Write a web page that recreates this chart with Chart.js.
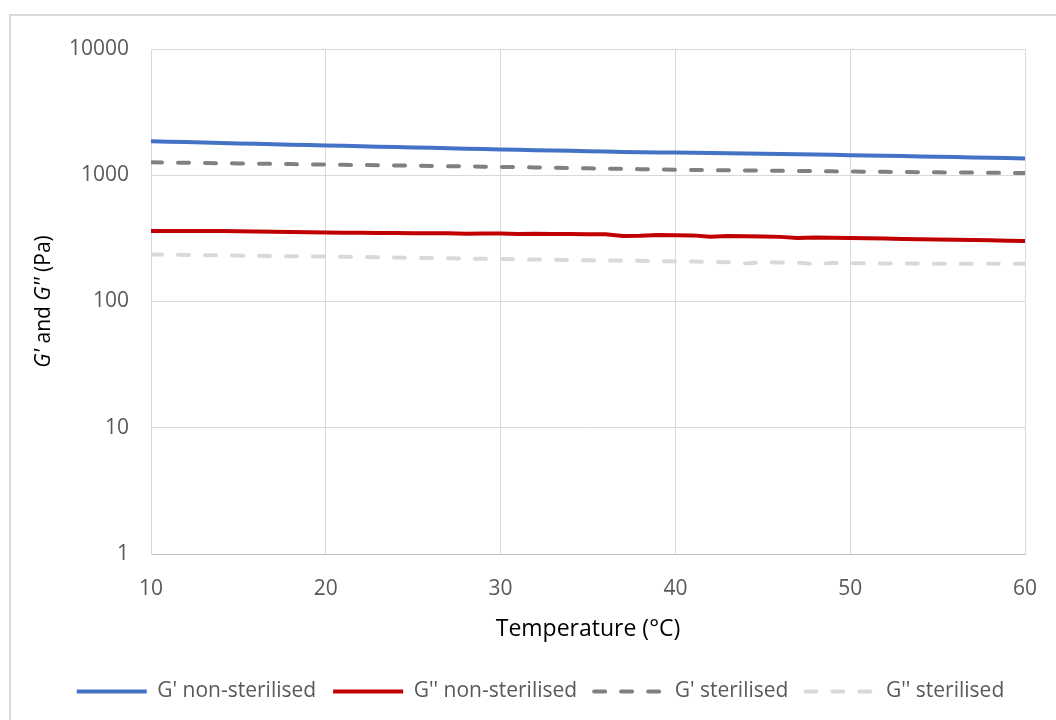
<!DOCTYPE html>
<html>
<head>
<meta charset="utf-8">
<script src="https://cdn.jsdelivr.net/npm/chart.js@4"></script>
<style>
  body { margin: 0; background: #fff; }
</style>
</head>
<body>
<canvas id="grafico" width="1056" height="720"></canvas>
<script>
// temperatures (°C), one reading per degree
const temps = [10,11,12,13,14,15,16,17,18,19,20,21,22,23,24,25,26,27,28,29,30,31,32,33,34,35,36,37,38,39,40,
  41,42,43,44,45,46,47,48,49,50,51,52,53,54,55,56,57,58,59,60];

const gPrimeNonSter = [1860,1845,1830,1815,1800,1788,1775,1762,1748,1735,1722,1710,1697,1685,1672,1660,1648,1636,1625,1613,1602,
  1591,1580,1570,1560,1550,1540,1528,1522,1517,1512,1506,1500,1494,1488,1482,1476,1469,1462,1452,1442,
  1434,1426,1418,1410,1401,1392,1384,1376,1368,1360];

const gDoublePrimeNonSter = [361,362,362,362,361,360,358,357,356,354,352,351,350,349,349,348,347,347,344,345,345,
  342,344,343,342,341,341,330,331,336,335,334,326,330,329,327,325,318,322,320,318,
  317,315,313,311,310,309,307,305,303,301];

const gPrimeSter = [1268,1262,1256,1251,1245,1240,1235,1230,1225,1220,1215,1210,1205,1200,1195,1190,1185,1180,1175,1170,1165,
  1159,1153,1147,1141,1135,1129,1123,1117,1111,1105,1102,1098,1095,1091,1088,1084,1081,1077,1074,1070,
  1067,1064,1061,1058,1055,1052,1049,1046,1043,1040];

const gDoublePrimeSter = [236,235,234,233,232,231,230,229,228,228,227,226,225,224,223,222,221,220,219,218,217,
  216,215,214,213,212,211,211,210,209,207,207,206,205,200,205,204,203,198,202,201,
  201,200,200,200,199,199,199,199,199,199];

const seriesNames = ["G' non-sterilised", "G'' non-sterilised", "G' sterilised", "G'' sterilised"];
const xTicks = [10, 20, 30, 40, 50, 60];
const yTicks = [1, 10, 100, 1000, 10000];

const FONT = 'Open Sans';

function pontos(valores) {
  return temps.map((t, i) => ({ x: t, y: valores[i] }));
}

// moldura clara em volta do gráfico
const moldura = {
  id: 'moldura',
  beforeDraw(chart) {
    const c = chart.ctx;
    c.save();
    c.strokeStyle = '#D9D9D9';
    c.lineWidth = 2;
    c.strokeRect(10, 15, 1060, 720);
    c.restore();
  }
};

// título do eixo y com G' e G'' em itálico
const tituloY = {
  id: 'tituloY',
  afterDraw(chart) {
    const c = chart.ctx;
    const area = chart.chartArea;
    const partes = [
      ["G'", 'italic'], [' and ', 'normal'], ["G''", 'italic'], [' (Pa)', 'normal']
    ];
    c.save();
    c.translate(44, (area.top + area.bottom) / 2);
    c.rotate(-Math.PI / 2);
    c.fillStyle = '#000';
    c.textBaseline = 'middle';
    let total = 0;
    partes.forEach(p => {
      c.font = p[1] + ' 21px "' + FONT + '"';
      total += c.measureText(p[0]).width;
    });
    let x = -total / 2;
    partes.forEach(p => {
      c.font = p[1] + ' 21px "' + FONT + '"';
      c.fillText(p[0], x, 0);
      x += c.measureText(p[0]).width;
    });
    c.restore();
  }
};

const ctx = document.getElementById('grafico').getContext('2d');

Chart.defaults.font.family = FONT;
Chart.defaults.font.size = 21;
Chart.defaults.color = '#595959';

const data = {
  datasets: [
    { label: seriesNames[0], data: pontos(gPrimeNonSter), borderColor: '#4472C4', backgroundColor: '#4472C4', borderWidth: 4 },
    { label: seriesNames[1], data: pontos(gDoublePrimeNonSter), borderColor: '#C00000', backgroundColor: '#C00000', borderWidth: 4 },
    { label: seriesNames[2], data: pontos(gPrimeSter), borderColor: '#808080', backgroundColor: '#808080', borderWidth: 4,
      borderDash: [11, 16], borderCapStyle: 'round' },
    { label: seriesNames[3], data: pontos(gDoublePrimeSter), borderColor: '#D9D9D9', backgroundColor: '#D9D9D9', borderWidth: 4,
      borderDash: [11, 16], borderCapStyle: 'round' }
  ]
};

const config = {
  type: 'line',
  data,
  options: {
    responsive: false,
    animation: false,
    devicePixelRatio: 1,
    elements: { point: { radius: 0 }, line: { tension: 0 } },
    layout: { padding: { left: 56, right: 31, top: 49, bottom: 8 } },
    scales: {
      x: {
        type: 'linear',
        min: 10,
        max: 60,
        afterBuildTicks(scale) { scale.ticks = xTicks.map(v => ({ value: v })); },
        afterFit(scale) {
          scale.height = 110;
          scale.paddingLeft = 0;
          scale.paddingRight = 0;
        },
        ticks: { padding: 22, color: '#595959' },
        grid: { color: '#D9D9D9', drawTicks: false },
        border: { color: '#BFBFBF', width: 1 },
        title: { display: true, text: 'Temperature (°C)', color: '#000', font: { size: 23 }, padding: { top: 4, bottom: 21 } }
      },
      y: {
        type: 'logarithmic',
        min: 1,
        max: 10000,
        afterBuildTicks(scale) { scale.ticks = yTicks.map(v => ({ value: v })); },
        afterFit(scale) { scale.width = 95; },
        ticks: { padding: 22, color: '#595959', callback: v => String(v) },
        grid: { color: '#D9D9D9', drawTicks: false },
        border: { color: '#D9D9D9' }
      }
    },
    plugins: {
      legend: {
        position: 'bottom',
        labels: {
          usePointStyle: true,
          pointStyle: 'line',
          pointStyleWidth: 70,
          padding: 17,
          color: '#595959',
          font: { size: 21 },
          generateLabels(chart) {
            const itens = Chart.defaults.plugins.legend.labels.generateLabels(chart);
            itens.forEach(item => {
              const ds = chart.data.datasets[item.datasetIndex];
              item.lineDash = ds.borderDash || [];
              item.lineCap = ds.borderDash ? 'round' : 'butt';
              item.pointStyle = 'line';
            });
            return itens;
          }
        }
      },
      tooltip: { enabled: false }
    }
  },
  plugins: [moldura, tituloY]
};

const grafico = new Chart(ctx, config);
</script>
</body>
</html>
